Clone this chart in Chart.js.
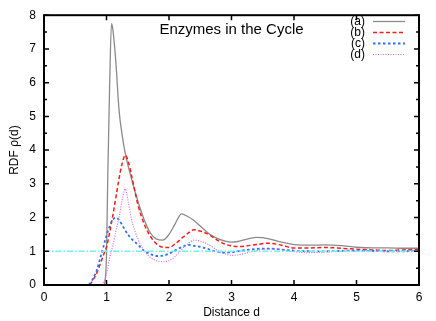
<!DOCTYPE html>
<html>
<head>
<meta charset="utf-8">
<script src="https://cdn.jsdelivr.net/npm/chart.js@4/dist/chart.umd.min.js"></script>
<style>
  body { margin: 0; background: #fff; }
  #wrap { width: 436px; height: 321px; }
</style>
</head>
<body>
<div id="wrap"><canvas id="rdfChart" width="436" height="321"></canvas></div>
<script>
// ------------------------- data -------------------------//
const dist = [0, 0.7, 0.75, 0.8, 0.85, 0.9, 0.95, 0.97, 1.0, 1.02, 1.05, 1.08, 1.1, 1.15, 1.2, 1.25, 1.3, 1.35, 1.4, 1.5,
    1.6, 1.7, 1.8, 1.9, 2.0, 2.1, 2.2, 2.3, 2.4, 2.5, 2.6, 2.7, 2.8, 2.9, 3.0, 3.1, 3.2, 3.4, 3.6, 3.8,
    4.0, 4.25, 4.5, 4.75, 5.0, 5.25, 5.5, 5.75, 6.0];

const rdfA = [0, 0, 0, 0, 0, 0, 0, 0.05, 0.9, 3.2, 5.9, 7.75, 7.6, 6.6, 5.2, 4.45, 3.9, 3.5, 3.15, 2.5,
    1.95, 1.55, 1.36, 1.33, 1.5, 1.82, 2.11, 2.03, 1.91, 1.75, 1.58, 1.45, 1.36, 1.3, 1.27, 1.29, 1.34, 1.41, 1.37, 1.27,
    1.2, 1.18, 1.19, 1.17, 1.12, 1.1, 1.1, 1.09, 1.09];

const rdfB = [0, 0, 0.05, 0.2, 0.38, 0.62, 0.88, 0.98, 1.13, 1.28, 1.55, 1.85, 2.05, 2.6, 3.15, 3.6, 3.85, 3.65, 3.25, 2.4,
    1.82, 1.45, 1.22, 1.12, 1.11, 1.22, 1.38, 1.53, 1.64, 1.6, 1.53, 1.42, 1.3, 1.21, 1.16, 1.14, 1.15, 1.2, 1.24, 1.18,
    1.1, 1.1, 1.11, 1.09, 1.06, 1.04, 1.02, 1.04, 1.05];

const rdfC = [0, 0, 0.08, 0.25, 0.47, 0.8, 1.13, 1.27, 1.45, 1.58, 1.74, 1.88, 1.94, 2.0, 1.93, 1.78, 1.62, 1.48, 1.37, 1.2,
    1.02, 0.92, 0.86, 0.87, 0.93, 1.03, 1.12, 1.19, 1.16, 1.13, 1.08, 1.02, 0.98, 0.96, 0.97, 1.0, 1.03, 1.07, 1.08, 1.05,
    1.02, 1.0, 1.0, 1.01, 1.02, 1.01, 1.0, 1.0, 1.01];

const rdfD = [0, 0, 0, 0, 0, 0, 0.08, 0.15, 0.32, 0.5, 0.8, 1.02, 1.15, 1.6, 2.0, 2.5, 2.85, 2.45, 1.95, 1.38,
    1.02, 0.82, 0.72, 0.69, 0.72, 0.85, 1.05, 1.22, 1.33, 1.3, 1.23, 1.12, 1.0, 0.92, 0.88, 0.89, 0.93, 1.02, 1.07, 1.05,
    0.99, 0.96, 0.98, 1.0, 1.01, 1.0, 0.99, 1.0, 1.0];

// ligne de reference g = 1
const refX = [0, 6];
const refY = [1, 1];

const seriesLabels = ['(a)', '(b)', '(c)', '(d)'];
const xTicks = [0, 1, 2, 3, 4, 5, 6];
const yTicks = [0, 1, 2, 3, 4, 5, 6, 7, 8];
const chartTitle = 'Enzymes in the Cycle';
//------------------------------------------------------------------------------//

function toPoints(xs, ys) {
    return xs.map((v, i) => ({ x: v, y: ys[i] }));
}

const FONT = 'Liberation Sans, Arial, Helvetica, sans-serif';

// cadre, petits traits, titre et legende (style gnuplot)
const gnuplotFrame = {
    id: 'gnuplotFrame',
    afterDatasetsDraw(chart) {
        const ctx = chart.ctx;
        const a = chart.chartArea;
        const x = chart.scales.x;
        const y = chart.scales.y;
        ctx.save();

        ctx.strokeStyle = '#000';
        ctx.lineWidth = 1.5;
        ctx.beginPath();
        xTicks.forEach(v => {
            const px = x.getPixelForValue(v);
            ctx.moveTo(px, a.bottom); ctx.lineTo(px, a.bottom - 5);
            ctx.moveTo(px, a.top); ctx.lineTo(px, a.top + 5);
        });
        for (let v = yTicks[0]; v <= yTicks[yTicks.length - 1]; v += 0.5) {
            const py = y.getPixelForValue(v);
            const len = (v % 1 === 0) ? 5 : 3;
            ctx.moveTo(a.left, py); ctx.lineTo(a.left + len, py);
            ctx.moveTo(a.right, py); ctx.lineTo(a.right - len, py);
        }
        ctx.stroke();

        ctx.lineWidth = 2;
        ctx.strokeRect(a.left, a.top, a.right - a.left, a.bottom - a.top);

        // titre dans le graphe
        ctx.fillStyle = '#000';
        ctx.font = '15px ' + FONT;
        ctx.textAlign = 'center';
        ctx.textBaseline = 'middle';
        ctx.fillText(chartTitle, 231.5, 30);

        // legende
        ctx.font = '12px ' + FONT;
        ctx.textAlign = 'right';
        seriesLabels.forEach((lab, i) => {
            const ds = chart.data.datasets[i];
            const ly = 21.5 + i * 11;
            ctx.fillStyle = '#000';
            ctx.fillText(lab, 365, ly);
            ctx.strokeStyle = ds.borderColor;
            ctx.lineWidth = ds.borderWidth;
            ctx.setLineDash(ds.borderDash || []);
            ctx.beginPath();
            ctx.moveTo(373, ly);
            ctx.lineTo(405, ly);
            ctx.stroke();
        });
        ctx.setLineDash([]);
        ctx.restore();
    }
};

const ctx = document.getElementById('rdfChart').getContext('2d');
const myChart = new Chart(ctx, {
    type: 'line',
    data: {
        datasets: [{
            label: seriesLabels[0],
            data: toPoints(dist, rdfA),
            borderColor: '#8a8a8a',
            borderWidth: 1.3,
            order: 5
        }, {
            label: seriesLabels[1],
            data: toPoints(dist, rdfB),
            borderColor: '#ff1a1a',
            borderWidth: 1.5,
            borderDash: [4, 2.5],
            order: 4
        }, {
            label: seriesLabels[2],
            data: toPoints(dist, rdfC),
            borderColor: '#2d6fff',
            borderWidth: 1.8,
            borderDash: [2.5, 2.5],
            order: 3
        }, {
            label: seriesLabels[3],
            data: toPoints(dist, rdfD),
            borderColor: '#c86bff',
            borderWidth: 1.2,
            borderDash: [1, 1.5],
            order: 2
        }, {
            label: 'ref',
            data: toPoints(refX, refY),
            borderColor: '#6ff2f2',
            borderWidth: 1.5,
            borderDash: [6, 2, 1.5, 2],
            order: 1
        }]
    },
    options: {
        responsive: false,
        animation: false,
        events: [],
        layout: { padding: { top: 11, right: 17, left: 0, bottom: 0 } },
        elements: {
            point: { radius: 0 },
            line: { cubicInterpolationMode: 'monotone', fill: false }
        },
        plugins: {
            legend: { display: false },
            tooltip: { enabled: false },
            title: { display: false }
        },
        scales: {
            x: {
                type: 'linear',
                min: 0,
                max: 6,
                afterBuildTicks: s => { s.ticks = xTicks.map(v => ({ value: v })); },
                afterFit: s => { s.height = 36; },
                grid: { display: false, drawTicks: false },
                border: { display: false },
                ticks: { color: '#000', padding: 5, font: { family: FONT, size: 12 } },
                title: {
                    display: true,
                    text: 'Distance d',
                    color: '#000',
                    font: { family: FONT, size: 12 },
                    padding: { top: 0, bottom: 1 }
                }
            },
            y: {
                type: 'linear',
                min: 0,
                max: 8,
                afterBuildTicks: s => { s.ticks = yTicks.map(v => ({ value: v })); },
                afterFit: s => { s.width = 44; },
                grid: { display: false, drawTicks: false },
                border: { display: false },
                ticks: { color: '#000', padding: 8, font: { family: FONT, size: 12 } },
                title: {
                    display: true,
                    text: 'RDF ρ(d)',
                    color: '#000',
                    font: { family: FONT, size: 12 },
                    padding: { top: 7, bottom: 0 }
                }
            }
        }
    },
    plugins: [gnuplotFrame]
});
</script>
</body>
</html>
